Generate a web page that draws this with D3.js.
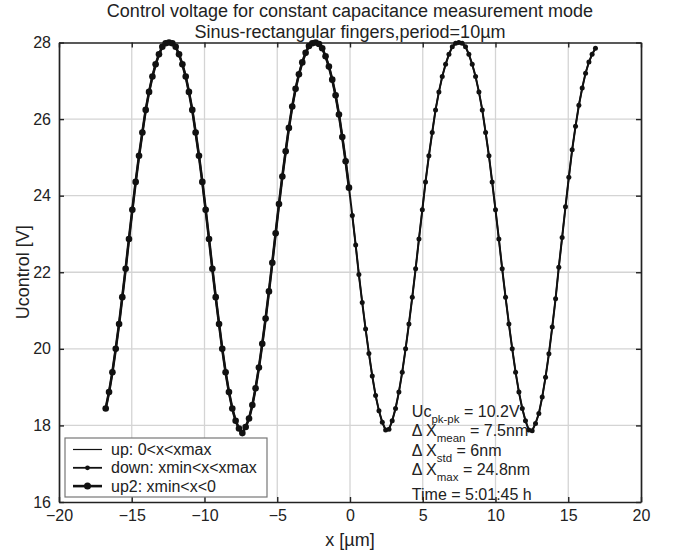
<!DOCTYPE html>
<html>
<head>
<meta charset="utf-8">
<script src="https://cdn.jsdelivr.net/npm/d3@7"></script>
<style>
  body { margin: 0; background: #fff; }
  text { font-family: "Liberation Sans", Arial, sans-serif; fill: #222; }
</style>
</head>
<body>
<div id="chart"></div>
<script>
// Chart size (matches the screenshot window)
const width = 677;
const height = 551;
const margin = {top: 42.5, right: 36, bottom: 49, left: 59};

// Measured positions along x [um]
const xPos = [
  -16.79, -16.56, -16.33, -16.10, -15.87, -15.65, -15.42, -15.19, -14.96, -14.73,
  -14.50, -14.27, -14.04, -13.81, -13.58, -13.36, -13.13, -12.90, -12.67, -12.44,
  -12.21, -11.98, -11.75, -11.52, -11.29, -11.07, -10.84, -10.61, -10.38, -10.15,
  -9.92, -9.69, -9.46, -9.23, -9.00, -8.78, -8.55, -8.32, -8.09, -7.86,
  -7.63, -7.40, -7.17, -6.94, -6.71, -6.49, -6.26, -6.03, -5.80, -5.57,
  -5.34, -5.11, -4.88, -4.65, -4.42, -4.20, -3.97, -3.74, -3.51, -3.28,
  -3.05, -2.82, -2.59, -2.36, -2.13, -1.91, -1.68, -1.45, -1.22, -0.99,
  -0.76, -0.53, -0.30, -0.07, 0.16, 0.39, 0.61, 0.84, 1.07, 1.30,
  1.53, 1.76, 1.99, 2.22, 2.45, 2.68, 2.90, 3.13, 3.36, 3.59,
  3.82, 4.05, 4.28, 4.51, 4.74, 4.97, 5.19, 5.42, 5.65, 5.88,
  6.11, 6.34, 6.57, 6.80, 7.03, 7.26, 7.48, 7.71, 7.94, 8.17,
  8.40, 8.63, 8.86, 9.09, 9.32, 9.55, 9.77, 10.00, 10.23, 10.46,
  10.69, 10.92, 11.15, 11.38, 11.61, 11.84, 12.06, 12.29, 12.52, 12.75,
  12.98, 13.21, 13.44, 13.67, 13.90, 14.13, 14.35, 14.58, 14.81, 15.04,
  15.27, 15.50, 15.73, 15.96, 16.19, 16.42, 16.64, 16.87
];

// Control voltage [V] at each position
const uControl = [
  18.44, 18.87, 19.39, 20.00, 20.65, 21.35, 22.09, 22.87, 23.63, 24.36,
  25.04, 25.65, 26.24, 26.71, 27.11, 27.43, 27.69, 27.89, 27.98, 28.00,
  27.98, 27.89, 27.69, 27.43, 27.11, 26.71, 26.24, 25.65, 25.04, 24.36,
  23.63, 22.87, 22.09, 21.35, 20.65, 20.00, 19.39, 18.87, 18.44, 18.12,
  17.92, 17.80, 17.96, 18.18, 18.53, 18.97, 19.51, 20.13, 20.79, 21.50,
  22.25, 23.02, 23.78, 24.50, 25.16, 25.77, 26.33, 26.79, 27.17, 27.48,
  27.73, 27.91, 27.98, 28.00, 27.96, 27.85, 27.64, 27.37, 27.03, 26.62,
  26.12, 25.53, 24.90, 24.21, 23.48, 22.71, 21.94, 21.21, 20.52, 19.88,
  19.29, 18.78, 18.38, 18.08, 17.88, 17.90, 18.12, 18.44, 18.87, 19.39,
  20.00, 20.65, 21.35, 22.09, 22.87, 23.63, 24.36, 25.04, 25.65, 26.24,
  26.71, 27.11, 27.43, 27.69, 27.89, 27.98, 28.00, 27.98, 27.89, 27.69,
  27.43, 27.11, 26.71, 26.24, 25.65, 25.04, 24.36, 23.63, 22.87, 22.09,
  21.35, 20.65, 20.00, 19.39, 18.87, 18.44, 18.12, 17.88, 17.86, 18.05,
  18.31, 18.74, 19.26, 19.87, 20.57, 21.31, 22.13, 22.91, 23.71, 24.48,
  25.20, 25.81, 26.36, 26.81, 27.20, 27.49, 27.69, 27.85
];

const xTicks = [-20, -15, -10, -5, 0, 5, 10, 15, 20];
const yTicks = [16, 18, 20, 22, 24, 26, 28];

const legendLabels = ["up: 0<x<xmax", "down: xmin<x<xmax", "up2: xmin<x<0"];

const titleLines = ["Control voltage for constant capacitance measurement mode",
                    "Sinus-rectangular fingers,period=10\u00b5m"];

// annotation: [main, subscript, rest]
const statLines = [
  ["Uc", "pk-pk", " = 10.2V"],
  ["\u0394 X", "mean", " = 7.5nm"],
  ["\u0394 X", "std", " = 6nm"],
  ["\u0394 X", "max", " = 24.8nm"],
  ["Time = 5:01:45 h", "", ""]
];

const points = xPos.map((x, i) => ({x: x, y: uControl[i]}));
const upPts = points.filter(d => d.x >= 0);
const up2Pts = points.filter(d => d.x <= 0);

let svg = d3.select("#chart").append("svg")
            .attr("width", width)
            .attr("height", height)

let x = d3.scaleLinear().domain([-20, 20]).range([margin.left, width - margin.right])
let y = d3.scaleLinear().domain([16, 28]).range([height - margin.bottom, margin.top])

// grid
svg.append("g")
   .selectAll("line")
   .data(xTicks.slice(1, -1))
   .join("line")
   .attr("x1", d => x(d)).attr("x2", d => x(d))
   .attr("y1", y(16)).attr("y2", y(28))
   .style("stroke", "#d4d4d4").style("stroke-width", 1.3)

svg.append("g")
   .selectAll("line")
   .data(yTicks.slice(1, -1))
   .join("line")
   .attr("x1", x(-20)).attr("x2", x(20))
   .attr("y1", d => y(d)).attr("y2", d => y(d))
   .style("stroke", "#d4d4d4").style("stroke-width", 1.3)

// axes, inner ticks on all four sides
const tickLen = 5;
svg.append("g")
   .attr("transform", "translate(0," + y(16) + ")")
   .call(d3.axisBottom(x).tickValues(xTicks).tickSizeInner(-tickLen).tickSizeOuter(0).tickPadding(8).tickFormat(d3.format("d")))
svg.append("g")
   .attr("transform", "translate(0," + y(28) + ")")
   .call(d3.axisTop(x).tickValues(xTicks).tickSizeInner(-tickLen).tickSizeOuter(0).tickFormat(""))
svg.append("g")
   .attr("transform", "translate(" + x(-20) + ",0)")
   .call(d3.axisLeft(y).tickValues(yTicks).tickSizeInner(-tickLen).tickSizeOuter(0).tickPadding(8).tickFormat(d3.format("d")))
svg.append("g")
   .attr("transform", "translate(" + x(20) + ",0)")
   .call(d3.axisRight(y).tickValues(yTicks).tickSizeInner(-tickLen).tickSizeOuter(0).tickFormat(""))

svg.selectAll(".domain").style("stroke", "#222").style("stroke-width", 1.7)
svg.selectAll(".tick line").style("stroke", "#222").style("stroke-width", 1.4)
svg.selectAll(".tick text").style("font-size", "16px").style("fill", "#222")
   .style("font-family", "'Liberation Sans', Arial, sans-serif")

// curves
let line = d3.line().x(d => x(d.x)).y(d => y(d.y))

svg.append("path").datum(points)
   .attr("d", line).style("fill", "none").style("stroke", "#111").style("stroke-width", 2)
svg.append("path").datum(upPts)
   .attr("d", line).style("fill", "none").style("stroke", "#111").style("stroke-width", 1.6)
svg.append("path").datum(up2Pts)
   .attr("d", line).style("fill", "none").style("stroke", "#111").style("stroke-width", 2.6)

svg.append("g").selectAll("circle")
   .data(points)
   .join("circle")
   .attr("cx", d => x(d.x)).attr("cy", d => y(d.y)).attr("r", 2.5)
   .style("fill", "#111")
svg.append("g").selectAll("circle")
   .data(up2Pts)
   .join("circle")
   .attr("cx", d => x(d.x)).attr("cy", d => y(d.y)).attr("r", 3.3)
   .style("fill", "#111")

// titles
svg.selectAll(".title")
   .data(titleLines)
   .join("text")
   .attr("class", "title")
   .attr("x", (x(-20) + x(20)) / 2)
   .attr("y", (d, i) => 17 + i * 20.5)
   .attr("text-anchor", "middle")
   .style("font-size", "18px")
   .text(d => d)

svg.append("text")
   .attr("x", (x(-20) + x(20)) / 2)
   .attr("y", height - 5)
   .attr("text-anchor", "middle")
   .style("font-size", "18px")
   .text("x [\u00b5m]")

svg.append("text")
   .attr("transform", "translate(29," + (y(16) + y(28)) / 2 + ") rotate(-90)")
   .attr("text-anchor", "middle")
   .style("font-size", "18px")
   .text("Ucontrol [V]")

// legend
let legend = svg.append("g").attr("transform", "translate(65,438)")
legend.append("rect")
      .attr("width", 202).attr("height", 59)
      .style("fill", "#fff").style("stroke", "#777").style("stroke-width", 1.2)

let rows = legend.selectAll(".row")
                 .data(legendLabels)
                 .join("g")
                 .attr("class", "row")
                 .attr("transform", (d, i) => "translate(0," + (11.5 + i * 18.3) + ")")

rows.append("line")
    .attr("x1", 8).attr("x2", 37)
    .style("stroke", "#111")
    .style("stroke-width", (d, i) => [1.2, 1.8, 2.6][i])
rows.filter((d, i) => i > 0).append("circle")
    .attr("cx", 22.5).attr("r", (d, i) => [2.4, 3.5][i])
    .style("fill", "#111")
rows.append("text")
    .attr("x", 46).attr("dy", "0.35em")
    .style("font-size", "16px")
    .text(d => d)

// statistics annotation
let stats = svg.append("g")
let statBase = [417, 436, 456, 475, 500]
statLines.forEach(function(s, i) {
  let t = stats.append("text")
               .attr("x", x(4.25))
               .attr("y", statBase[i])
               .style("font-size", "16px")
  t.append("tspan").text(s[0])
  if (s[1]) {
    t.append("tspan").attr("dy", 6).style("font-size", "11.5px").text(s[1])
    t.append("tspan").attr("dy", -6).text(s[2])
  }
})
</script>
</body>
</html>
